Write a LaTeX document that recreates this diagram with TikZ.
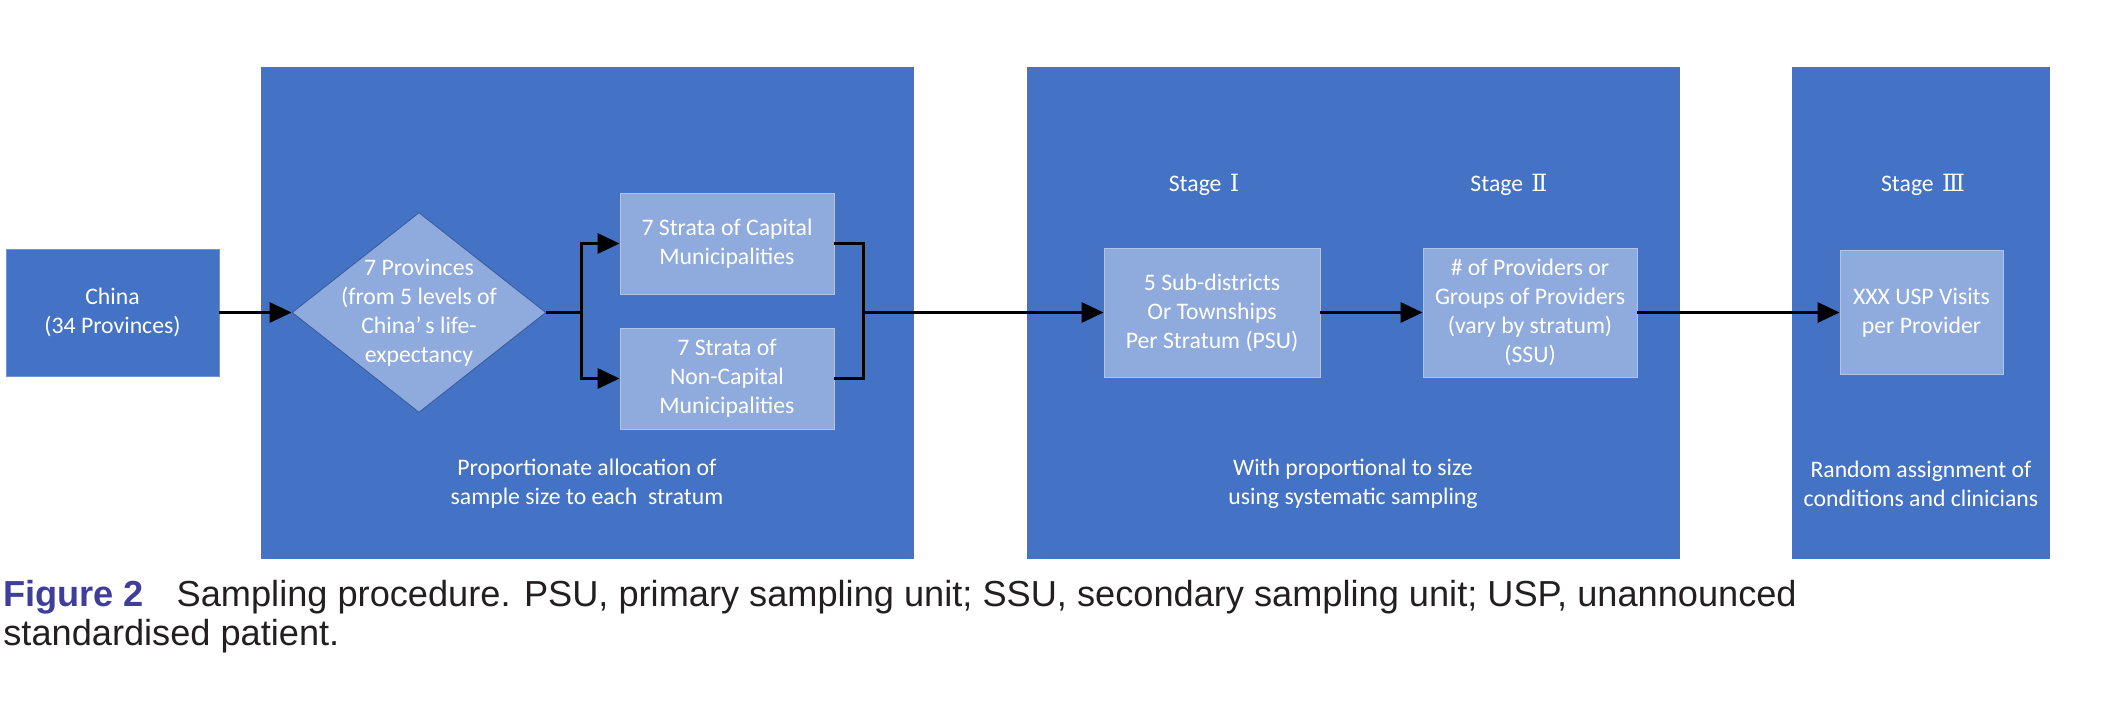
\documentclass[tikz,border=0pt]{standalone}
\usepackage{fontspec}
\setmainfont{Carlito}
\newfontfamily\capfont{Liberation Sans}
\newfontfamily\numfont{DejaVu Serif}
\usetikzlibrary{shapes.geometric,arrows.meta}
\definecolor{panelblue}{HTML}{4472C4}
\definecolor{boxblue}{HTML}{8FAADC}
\definecolor{edgeblue}{HTML}{3A5D9E}
\definecolor{figblue}{HTML}{3F3F9B}
\definecolor{captext}{HTML}{231F20}
\tikzset{
  every node/.style={font=\fontsize{13.5}{16.5}\selectfont},
  panel/.style={fill=panelblue},
  lightbox/.style={fill=boxblue, draw=boxblue!70!white, line width=0.5pt, text=white,
    align=center, inner sep=0pt},
  darkbox/.style={fill=panelblue, draw=boxblue!60!panelblue, line width=0.5pt, text=white,
    align=center, inner sep=0pt},
  provdiamond/.style={diamond, fill=boxblue, draw=edgeblue, line width=0.5pt, inner sep=0pt,
    minimum width=5.08cm, minimum height=4cm},
  whitetext/.style={text=white, align=center, inner sep=0pt},
  flow/.style={line width=1.7pt, -{Triangle[length=0.44cm,width=0.4cm]}},
  link/.style={line width=1.7pt},
  caption/.style={anchor=base west, align=left, inner sep=0pt, text=captext,
    font=\capfont\fontsize{20.6}{22.2}\selectfont},
}
\begin{document}
\begin{tikzpicture}[x=0.02cm,y=-0.02cm]
\useasboundingbox (0,0) rectangle (2115,708);
% panels
\fill[panel] (261,67) rectangle (914,559);
\fill[panel] (1027,67) rectangle (1680,559);
\fill[panel] (1792,67) rectangle (2050,559);
% boxes
\node[darkbox, minimum width=4.26cm, minimum height=2.54cm] (china) at (112.5,312.5) {China\\(34 Provinces)};
\node[provdiamond] (prov) at (419,312.5) {};
\node[whitetext] (provtext) at (prov) {7 Provinces\\(from 5 levels of\\China’\,s life-\\expectancy};
\node[lightbox, minimum width=4.28cm, minimum height=2.02cm] (capital) at (727,243.5) {7 Strata of Capital\\Municipalities};
\node[lightbox, minimum width=4.28cm, minimum height=2.02cm] (noncap) at (727,378.5) {7 Strata of\\Non-Capital\\Municipalities};
\node[lightbox, minimum width=4.32cm, minimum height=2.58cm] (psu) at (1212,312.5) {5 Sub-districts\\Or Townships\\Per Stratum (PSU)};
\node[lightbox, minimum width=4.28cm, minimum height=2.58cm] (ssu) at (1530,312.5) {\# of Providers or\\Groups of Providers\\(vary by stratum)\\(SSU)};
\node[lightbox, minimum width=3.26cm, minimum height=2.48cm] (usp) at (1921.5,312.5) {XXX USP Visits\\per Provider};
% stage labels
\node[whitetext] (stage1) at (1204,185) {Stage\hspace{0.35em}{\numfont Ⅰ}};
\node[whitetext] (stage2) at (1509,185) {Stage\hspace{0.35em}{\numfont Ⅱ}};
\node[whitetext] (stage3) at (1923,185) {Stage\hspace{0.35em}{\numfont Ⅲ}};
% notes
\node[whitetext] (note1) at (587,484) {Proportionate allocation of\\sample size to each\ \ stratum};
\node[whitetext] (note2) at (1353,484) {With proportional to size\\using systematic sampling};
\node[whitetext] (note3) at (1921,484) {Random assignment of\\conditions and clinicians};
% connectors
\coordinate (split) at (581,312.5);
\coordinate (join) at (863,312.5);
\draw[flow] (china) -- (prov);
\draw[link] (prov.east) -- (split);
\draw[flow] (split) |- (capital.west);
\draw[flow] (split) |- (noncap.west);
\draw[link] (capital.east) -| (join);
\draw[link] (noncap.east) -| (join);
\draw[flow] (join) -- (psu.west);
\draw[flow] (psu) -- (ssu);
\draw[flow] (ssu) -- (usp);
% caption
\node[caption] (cap) at (3,645) {{\bfseries\color{figblue}Figure 2}\hspace{0.9em}Sampling procedure. PSU, primary sampling unit; SSU, secondary sampling unit; USP, unannounced\\standardised patient.};
\end{tikzpicture}
\end{document}
